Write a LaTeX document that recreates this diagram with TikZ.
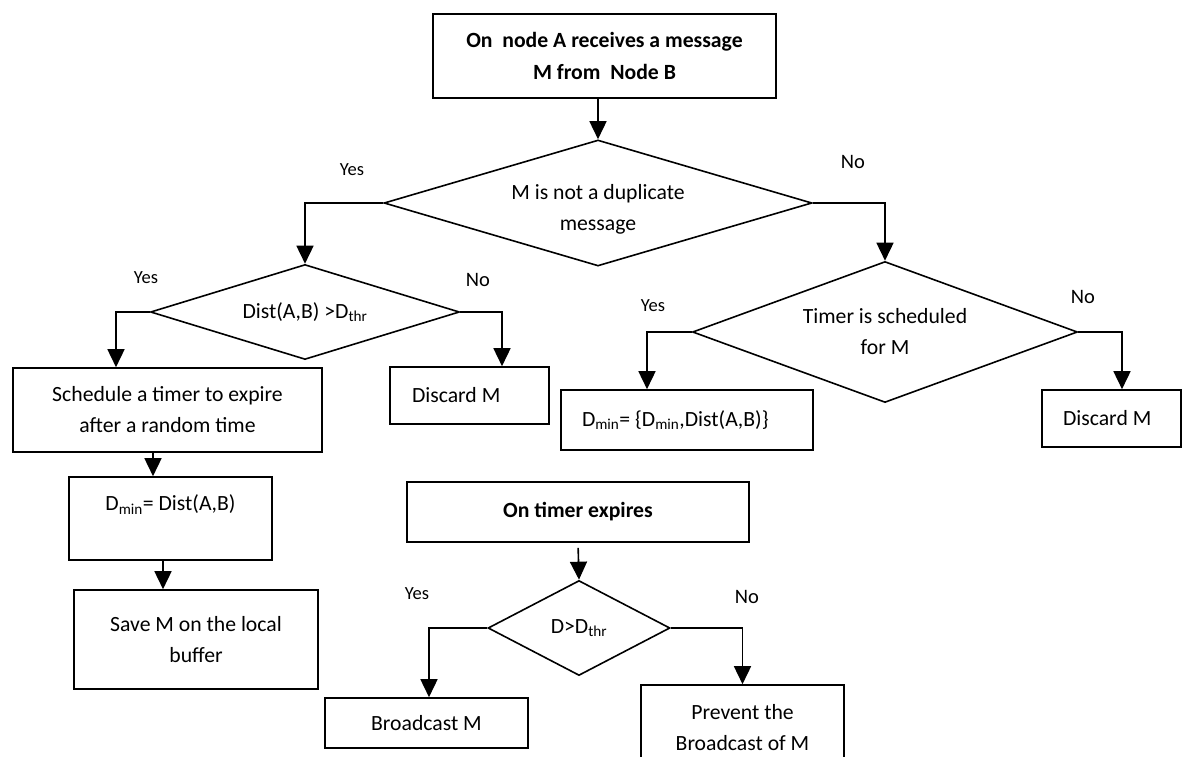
\documentclass[tikz,border=0pt]{standalone}
\usepackage{fontspec}
\setmainfont{Carlito}
\usetikzlibrary{arrows.meta,shapes.geometric}

\begin{document}
\begin{tikzpicture}[x=1pt,y=-1pt,line width=1.6pt,
  every node/.style={font=\fontsize{21.7}{31}\selectfont,inner sep=0pt},
  box/.style={draw,align=center},
  headbox/.style={box,font=\bfseries\fontsize{21.7}{32}\selectfont},
  cond/.style={draw,diamond,aspect=2.5,align=center},
  yeslbl/.style={font=\fontsize{18.5}{22}\selectfont},
  nolbl/.style={font=\fontsize{20.5}{24}\selectfont},
  arr/.style={-{Triangle[width=17pt,length=18pt]}}]
\useasboundingbox (0,0) rectangle (1192,757);
\clip (0,0) rectangle (1192,757);
\node[headbox,minimum width=343pt,minimum height=84pt] (recv) at (604.5,56) {On\ \ node A receives a message\\M from\ \ Node B};
\node[cond,minimum width=428pt,minimum height=126pt] (dup) at (598,203) {\raisebox{-11pt}[0pt][0pt]{\begin{tabular}{@{}c@{}}M is not a duplicate\\message\end{tabular}}};
\node[cond,minimum width=309pt,minimum height=95pt] (dist) at (305,312) {Dist(A,B) >D\textsubscript{thr}};
\node[cond,minimum width=385pt,minimum height=141pt] (timer) at (885,332) {Timer is scheduled\\for M};
\node[box,minimum width=309pt,minimum height=84pt] (settimer) at (167.5,410) {Schedule a timer to expire\\after a random time};
\node[draw,inner xsep=22pt,minimum height=57pt] (discA) at (469.5,395.5) {\makebox[115pt][l]{Discard M}};
\node[box,minimum width=203pt,minimum height=83pt] (dminA) at (170.5,518.5) {D\textsubscript{min}= Dist(A,B)\\\mbox{}};
\node[box,minimum width=244pt,minimum height=99pt] (save) at (196,639.5) {Save M on the local\\buffer};
\node[draw,inner xsep=21pt,minimum height=60pt] (dminB) at (687,420) {\makebox[210pt][l]{D\textsubscript{min}= \{D\textsubscript{min},Dist(A,B)\}}};
\node[draw,inner xsep=21pt,minimum height=57pt] (discB) at (1111.5,418.5) {\makebox[97pt][l]{Discard M}};
\node[headbox,minimum width=342pt,minimum height=60pt] (expire) at (578,512) {On timer expires};
\node[cond,minimum width=182pt,minimum height=95pt] (dthr) at (579,628) {D>D\textsubscript{thr}};
\node[box,minimum width=203pt,minimum height=50pt] (bcast) at (426.5,723) {Broadcast M};
\node[box,minimum width=203pt,minimum height=85pt] (prevent) at (742.5,727.5) {Prevent the\\Broadcast of M};
\node[yeslbl] (y1) at (352,170) {Yes};
\node[nolbl] (n1) at (853,162) {No};
\node[yeslbl] (y2) at (146,278) {Yes};
\node[nolbl] (n2) at (478,280) {No};
\node[yeslbl] (y3) at (653,306) {Yes};
\node[nolbl] (n3) at (1083,297) {No};
\node[yeslbl] (y4) at (417,594) {Yes};
\node[nolbl] (n4) at (747,597) {No};
\draw[arr] (dup.north |- recv.south) -- (dup.north);
\draw[arr] (dup.west) -| (dist.north);
\draw[arr] (dup.east) -| (timer.north);
\draw[arr] (dist.west) -| ([xshift=-51.5pt]settimer.north);
\draw[arr] (dist.east) -| ([xshift=32.5pt]discA.north);
\draw[arr] ([xshift=-17.5pt]dminA.north |- settimer.south) -- ([xshift=-17.5pt]dminA.north);
\draw[arr] ([xshift=-33pt]save.north |- dminA.south) -- ([xshift=-33pt]save.north);
\draw[arr] (timer.west) -| ([xshift=-40pt]dminB.north);
\draw[arr] (timer.east) -| ([xshift=10.5pt]discB.north);
\draw[arr,shorten <=5pt] (expire.south) -- (dthr.north);
\draw[arr] (dthr.west) -| ([xshift=2.5pt]bcast.north);
\draw[arr] (dthr.east) -| (prevent.north);
\end{tikzpicture}
\end{document}
